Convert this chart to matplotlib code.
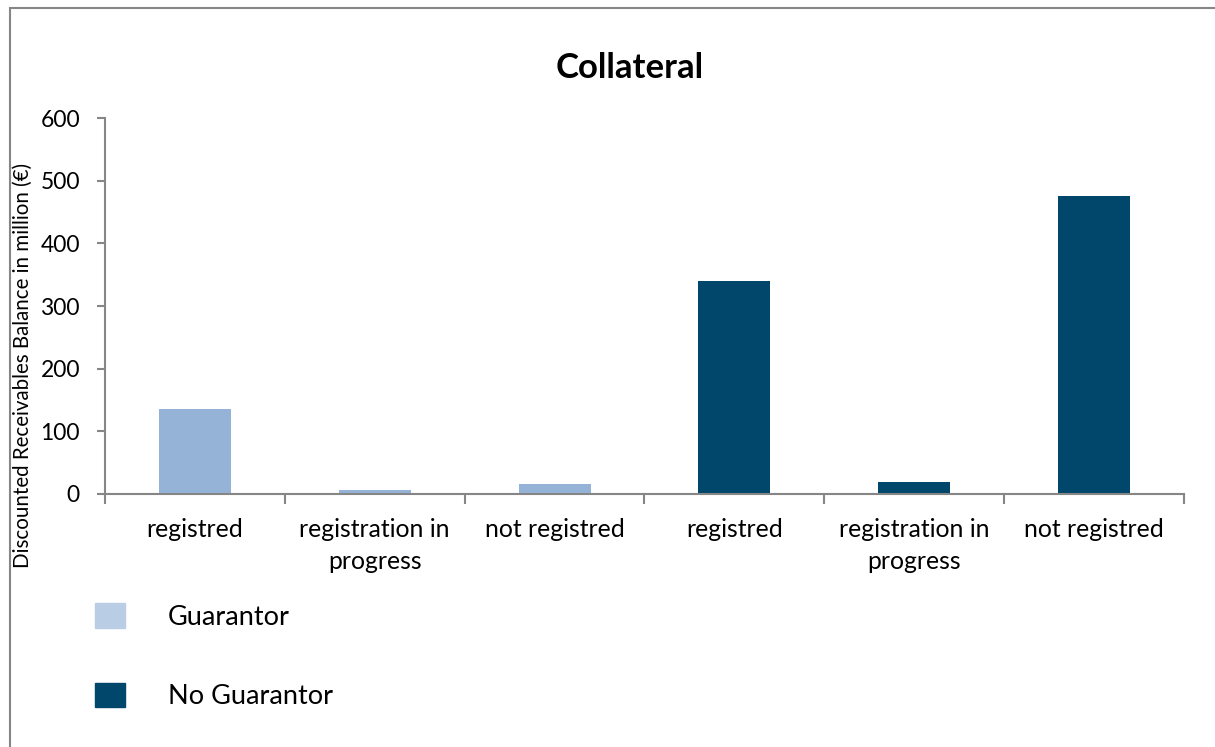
import matplotlib.pyplot as plt
from matplotlib.patches import Patch, Rectangle
import numpy as np

plt.rcParams['font.family'] = ['Lato', 'DejaVu Sans']

categories = ['registred', 'registration in\nprogress', 'not registred',
              'registred', 'registration in\nprogress', 'not registred']
guarantor = [136, 7, 16]
no_guarantor = [340, 19, 475]

light = '#95b3d7'
dark = '#00476b'
grey = '#868686'

fig = plt.figure(figsize=(12.15, 7.47), dpi=100)
ax = fig.add_axes([0.0864, 0.3387, 0.8881, 0.5033])

x = np.arange(len(categories))
ax.bar(x[:3], guarantor, width=0.4, color=light)
ax.bar(x[3:], no_guarantor, width=0.4, color=dark)

ax.set_xlim(-0.5, 5.5)
ax.set_ylim(0, 600)
ax.set_yticks(range(0, 601, 100))
ax.set_xticks(x)
ax.set_xticklabels(categories, fontsize=17.8, linespacing=1.5)
ax.set_xticks(np.arange(-0.5, 6, 1), minor=True)
ax.tick_params(axis='x', which='major', length=0, pad=17)
ax.tick_params(axis='x', which='minor', length=7, width=1.5, color=grey, direction='out')
ax.tick_params(axis='y', labelsize=16.5, length=6, width=1.5, color=grey, pad=12)

for s in ['top', 'right']:
    ax.spines[s].set_visible(False)
for s in ['left', 'bottom']:
    ax.spines[s].set_color(grey)
    ax.spines[s].set_linewidth(1.5)

ax.set_ylabel('Discounted Receivables Balance in million (€)', fontsize=14.8)
ax.yaxis.set_label_coords(-0.0667, 0.343)

fig.text(0.518, 0.909, 'Collateral', fontsize=25, fontweight='bold', ha='center', va='center')

handles = [Patch(color='#b9cde5', label='Guarantor'), Patch(color=dark, label='No Guarantor')]
fig.legend(handles=handles, loc='upper left', bbox_to_anchor=(0.058, 0.225),
           bbox_transform=fig.transFigure, frameon=False, fontsize=19.5,
           handlelength=1.1, handleheight=1.0, handletextpad=1.6, labelspacing=1.95)

fig.patches.append(Rectangle((0.008, -0.1), 1.1, 1.089, transform=fig.transFigure,
                             fill=False, edgecolor=grey, linewidth=1.5))

fig.savefig('out.png', dpi=100)
